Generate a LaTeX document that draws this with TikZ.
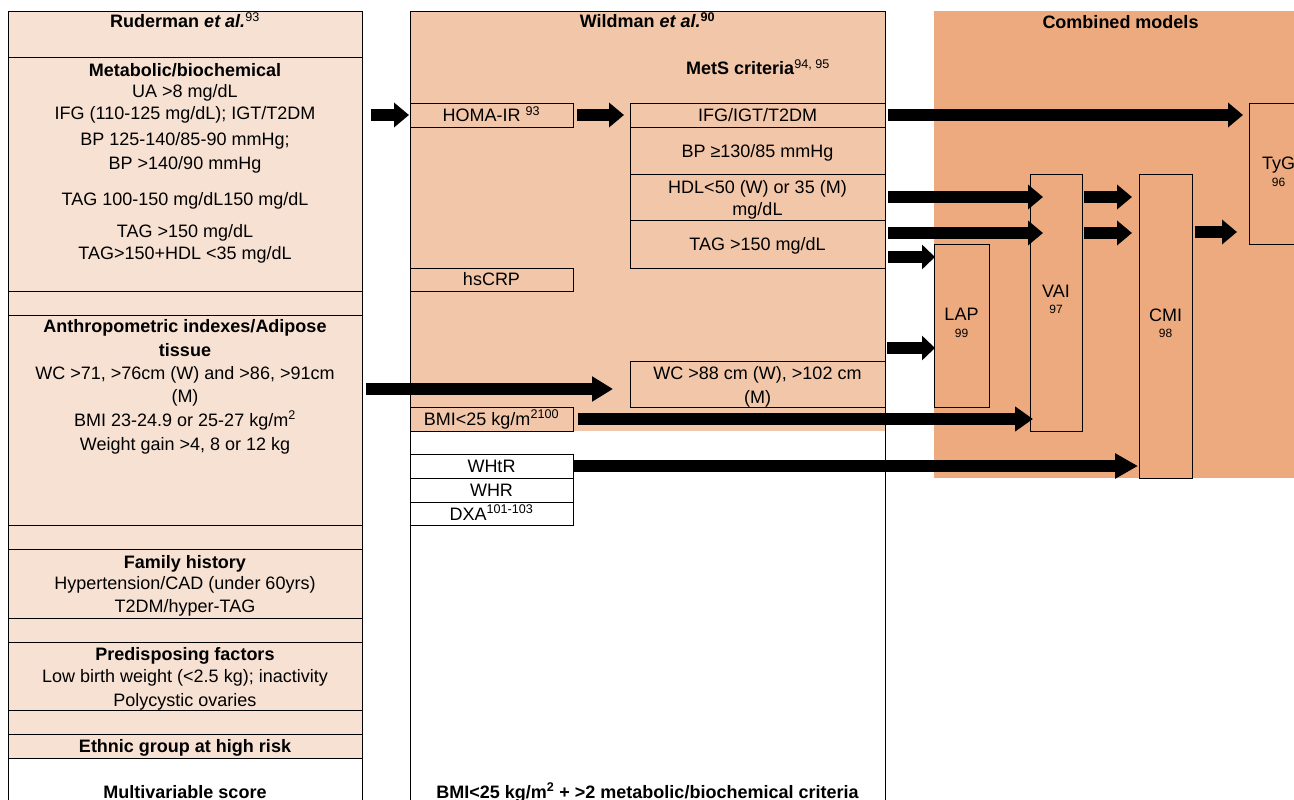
\documentclass[tikz,border=0pt]{standalone}
\usepackage{fontspec}
\setmainfont{Liberation Sans}
\usetikzlibrary{arrows.meta,calc}
\definecolor{lfill}{HTML}{F7E1D3}
\definecolor{mfill}{HTML}{F2C6A9}
\definecolor{rfill}{HTML}{EDAA7E}
\newcommand{\fsz}{\fontsize{18}{23}\selectfont}
\newcommand{\fsm}{\fontsize{12}{14}\selectfont}
\begin{document}
\begin{tikzpicture}[x=1pt,y=-1pt,
  txt/.style={anchor=base, inner sep=0pt, font=\fsz},
  hd/.style={anchor=base, inner sep=0pt, font=\fsz\bfseries},
  sm/.style={anchor=base, inner sep=0pt, font=\fsm},
  cell/.style={draw, line width=0.9pt, anchor=north west, inner sep=0pt, outer sep=0pt},
  area/.style={anchor=north west, inner sep=0pt, outer sep=0pt},
  frame/.style={line width=0.9pt},
  blk/.style={line width=12pt, -{Triangle[width=24pt,length=#1]}},
  blk/.default=15pt
]
\useasboundingbox (0,0) rectangle (1294,800);
\clip (0,0) rectangle (1294,800);
\fill[white] (0,0) rectangle (1294,800);

% ---------- backgrounds ----------
\node[area, fill=rfill, minimum width=376pt, minimum height=467pt] (comb) at (934,11) {};
\node[area, fill=mfill, minimum width=475pt, minimum height=420pt] (wild) at (410,11) {};
\draw[frame] (410,800) -- (410,11) -- (885,11) -- (885,800);

% ---------- left column ----------
\node[cell, fill=lfill, minimum width=354pt, minimum height=46pt]  (lhead) at (8,11) {};
\node[cell, fill=lfill, minimum width=354pt, minimum height=234pt] (lmet)  at (8,57) {};
\node[cell, fill=lfill, minimum width=354pt, minimum height=24pt]  (lsp1)  at (8,291) {};
\node[cell, fill=lfill, minimum width=354pt, minimum height=210pt] (lant)  at (8,315) {};
\node[cell, fill=lfill, minimum width=354pt, minimum height=24pt]  (lsp2)  at (8,525) {};
\node[cell, fill=lfill, minimum width=354pt, minimum height=69pt]  (lfam)  at (8,549) {};
\node[cell, fill=lfill, minimum width=354pt, minimum height=24pt]  (lsp3)  at (8,618) {};
\node[cell, fill=lfill, minimum width=354pt, minimum height=68pt]  (lpre)  at (8,642) {};
\node[cell, fill=lfill, minimum width=354pt, minimum height=24pt]  (lsp4)  at (8,710) {};
\node[cell, fill=lfill, minimum width=354pt, minimum height=24pt]  (leth)  at (8,734) {};
\draw[frame] (8,758) -- (8,810) (362,758) -- (362,810);

% ---------- middle boxes ----------
\node[cell, fill=mfill, minimum width=163pt, minimum height=24pt] (homa)  at (410,103) {};
\node[cell, fill=mfill, minimum width=255pt, minimum height=24pt] (ifg)   at (630,103) {};
\node[cell, fill=mfill, minimum width=255pt, minimum height=47pt] (bp)    at (630,127) {};
\node[cell, fill=mfill, minimum width=255pt, minimum height=46pt] (hdl)   at (630,174) {};
\node[cell, fill=mfill, minimum width=255pt, minimum height=48pt] (tag)   at (630,220) {};
\node[cell, fill=mfill, minimum width=163pt, minimum height=23pt] (hscrp) at (410,268) {};
\node[cell, fill=mfill, minimum width=255pt, minimum height=46pt] (wc)    at (630,361) {};
\node[cell, fill=mfill, minimum width=163pt, minimum height=24pt] (bmi)   at (410,407) {};
\node[cell, fill=white, minimum width=163pt, minimum height=24pt] (whtr)  at (410,454) {};
\node[cell, fill=white, minimum width=163pt, minimum height=24pt] (whr)   at (410,478) {};
\node[cell, fill=white, minimum width=163pt, minimum height=23pt] (dxa)   at (410,502) {};

% ---------- combined model boxes ----------
\node[cell, fill=rfill, minimum width=59pt, minimum height=141pt] (tyg) at (1249,103) {};
\node[cell, fill=rfill, minimum width=52pt, minimum height=257pt] (vai) at (1030,174) {};
\node[cell, fill=rfill, minimum width=53pt, minimum height=304pt] (cmi) at (1139,174) {};
\node[cell, fill=rfill, minimum width=55pt, minimum height=163pt] (lap) at (934,244) {};

% ---------- arrows ----------
\draw[blk, shorten <=9pt, shorten >=1pt] (lmet.east |- homa.west) -- (homa.west);
\draw[blk, shorten <=4pt, shorten >=6pt] (homa.east) -- (ifg.west);
\draw[blk, shorten <=3pt, shorten >=6pt] (ifg.east) -- (ifg.east -| tyg.west);
\draw[blk, shorten <=3pt, shorten >=-13pt] (hdl.east) -- (hdl.east -| vai.west);
\draw[blk, shorten <=3pt, shorten >=-13pt] ([yshift=11pt]tag.east) -- ([yshift=11pt]tag.east -| vai.west);
\draw[blk, shorten <=2pt, shorten >=7pt] (hdl.east -| vai.east) -- (hdl.east -| cmi.west);
\draw[blk, shorten <=2pt, shorten >=7pt] ([yshift=11pt]tag.east -| vai.east) -- ([yshift=11pt]tag.east -| cmi.west);
\draw[blk=13pt, shorten <=3pt, shorten >=-1pt] ([yshift=68.5pt]lap.west -| wild.east) -- ([yshift=68.5pt]lap.west);
\draw[blk=13pt, shorten <=2pt, shorten >=-1pt] ([yshift=-22.5pt]lap.west -| wild.east) -- ([yshift=-22.5pt]lap.west);
\draw[blk, shorten <=3pt, shorten >=12pt] ([yshift=-58.5pt]tyg.west -| cmi.east) -- ([yshift=-58.5pt]tyg.west);
\draw[blk=18pt, shorten <=5pt, shorten >=-3pt] (bmi.east) -- (bmi.east -| vai.west);
\draw[blk=23pt, shorten >=1pt] (whtr.east) -- (whtr.east -| cmi.west);
\draw[blk=21pt, shorten <=4pt, shorten >=17pt] ([yshift=-5pt]wc.west -| lant.east) -- ([yshift=-5pt]wc.west);

% ---------- left texts ----------
\node[hd]  (tl1)  at (185,28)    {Ruderman \textit{et al.}\textsuperscript{\normalfont 93}};
\node[hd]  (tl2)  at (185,76.5)  {Metabolic/biochemical};
\node[txt] (tl3)  at (185,97)    {UA >8 mg/dL};
\node[txt] (tl4)  at (185,120)   {IFG (110-125 mg/dL); IGT/T2DM};
\node[txt] (tl5)  at (185,145)   {BP 125-140/85-90 mmHg;};
\node[txt] (tl6)  at (185,169)   {BP >140/90 mmHg};
\node[txt] (tl7)  at (185,205)   {TAG 100-150 mg/dL150 mg/dL};
\node[txt] (tl8)  at (185,237.5) {TAG >150 mg/dL};
\node[txt] (tl9)  at (185,259)   {TAG>150+HDL <35 mg/dL};
\node[hd]  (tl10) at (185,332.5) {Anthropometric indexes/Adipose};
\node[hd]  (tl11) at (185,356)   {tissue};
\node[txt] (tl12) at (185,379)   {WC >71, >76cm (W) and >86, >91cm};
\node[txt] (tl13) at (185,402.5) {(M)};
\node[txt] (tl14) at (185,426)   {BMI 23-24.9 or 25-27 kg/m\textsuperscript{2}};
\node[txt] (tl15) at (185,450)   {Weight gain >4, 8 or 12 kg};
\node[hd]  (tl16) at (185,568)   {Family history};
\node[txt] (tl17) at (185,589.5) {Hypertension/CAD (under 60yrs)};
\node[txt] (tl18) at (185,612.5) {T2DM/hyper-TAG};
\node[hd]  (tl19) at (185,660)   {Predisposing factors};
\node[txt] (tl20) at (185,682.5) {Low birth weight (<2.5 kg); inactivity};
\node[txt] (tl21) at (185,706)   {Polycystic ovaries};
\node[hd]  (tl22) at (185,752.5) {Ethnic group at high risk};
\node[hd]  (tl23) at (185,798)   {Multivariable score};

% ---------- middle texts ----------
\node[hd]  (tm1)  at (647.5,28)  {Wildman \textit{et al.}\textsuperscript{90}};
\node[hd]  (tm2)  at (758,75)    {MetS criteria\textsuperscript{\normalfont 94, 95}};
\node[txt] (tm3)  at (491.5,121.5) {HOMA-IR \textsuperscript{93}};
\node[txt] (tm4)  at (757.5,121.5) {IFG/IGT/T2DM};
\node[txt] (tm5)  at (757.5,157.5) {BP ≥130/85 mmHg};
\node[txt] (tm6)  at (757.5,193)   {HDL<50 (W) or 35 (M)};
\node[txt] (tm7)  at (757.5,215)   {mg/dL};
\node[txt] (tm8)  at (757.5,250)   {TAG >150 mg/dL};
\node[txt] (tm9)  at (491.5,285)   {hsCRP};
\node[txt] (tm10) at (757.5,379)   {WC >88 cm (W), >102 cm};
\node[txt] (tm11) at (757.5,403)   {(M)};
\node[txt] (tm12) at (491.5,425)   {BMI<25 kg/m\textsuperscript{2100}};
\node[txt] (tm13) at (491.5,472)   {WHtR};
\node[txt] (tm14) at (491.5,496.5) {WHR};
\node[txt] (tm15) at (491.5,520)   {DXA\textsuperscript{101-103}};
\node[hd]  (tm16) at (647.5,798)   {BMI<25 kg/m\textsuperscript{2} + >2 metabolic/biochemical criteria};

% ---------- right texts ----------
\node[hd]  (tr1) at (1120.5,28.5) {Combined models};
\node[txt] (tr2) at (1278.5,169)  {TyG};
\node[sm]  (tr3) at (1278.5,186)  {96};
\node[txt] (tr4) at (1056,297)    {VAI};
\node[sm]  (tr5) at (1056,313.6)  {97};
\node[txt] (tr6) at (1165.5,321.5) {CMI};
\node[sm]  (tr7) at (1165.5,337.6) {98};
\node[txt] (tr8) at (961.5,320)   {LAP};
\node[sm]  (tr9) at (961.5,337.6) {99};
\end{tikzpicture}
\end{document}
